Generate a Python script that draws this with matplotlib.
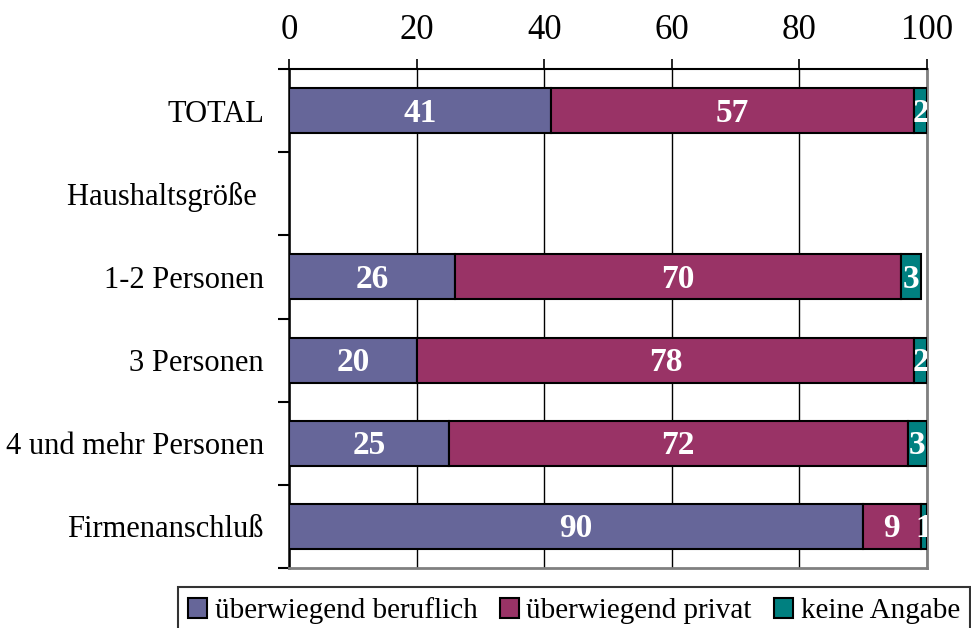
import matplotlib.pyplot as plt
import numpy as np

# Data
categories = ["TOTAL", "Haushaltsgröße ", "1-2 Personen", "3 Personen",
              "4 und mehr Personen", "Firmenanschluß"]
beruflich = [41, np.nan, 26, 20, 25, 90]
privat = [57, np.nan, 70, 78, 72, 9]
keine = [2, np.nan, 3, 2, 3, 1]
series_names = ["überwiegend beruflich", "überwiegend privat", "keine Angabe"]
colors = ["#666699", "#993366", "#008080"]
xticks = [0, 20, 40, 60, 80, 100]

plt.rcParams['font.family'] = ['Liberation Serif', 'DejaVu Serif']

fig = plt.figure(figsize=(9.71, 6.28), dpi=100)
ax = fig.add_axes([289 / 971, 1 - 568 / 628, 638 / 971, 499 / 628])

y = np.arange(len(categories))
left = np.zeros(len(categories))
for vals, name, col in zip([beruflich, privat, keine], series_names, colors):
    arr = np.array(vals, dtype=float)
    mask = ~np.isnan(arr)
    v = np.nan_to_num(arr)
    ax.barh(y[mask], v[mask], left=left[mask], height=0.54, color=col,
            edgecolor="black", linewidth=1.5, label=name, zorder=3)
    for yi, vi, li in zip(y[mask], v[mask], left[mask]):
        ax.text(li + vi / 2, yi + 0.03, f"{int(vi)}", ha="center", va="center",
                color="white", fontsize=24, fontweight="bold", zorder=4,
                clip_on=True)
    left = left + v

ax.set_xlim(0, 100)
ax.set_ylim(len(categories) - 0.5, -0.5)

# x axis on top
ax.xaxis.tick_top()
ax.set_xticks(xticks)
ax.tick_params(axis="x", length=7, width=1.2, pad=9, labelsize=25,
               direction="out", colors="black")
ax.grid(axis="x", color="black", linewidth=1.0, zorder=0)

# y axis: labels at centers, separator ticks at boundaries
ax.set_yticks(y)
ax.set_yticklabels(categories, fontsize=22)
ax.set_yticks(np.arange(-0.5, len(categories)), minor=True)
ax.tick_params(axis="y", which="major", length=0, pad=18)
ax.tick_params(axis="y", which="minor", length=8, width=1.5)

ax.spines["left"].set_linewidth(1.8)
ax.spines["top"].set_linewidth(1.5)
ax.spines["right"].set_color("#808080")
ax.spines["right"].set_linewidth(2)
ax.spines["bottom"].set_color("#808080")
ax.spines["bottom"].set_linewidth(2)

leg = fig.legend(loc="upper left", bbox_to_anchor=(178 / 971, 1 - 587 / 628),
                 ncol=3, fontsize=21, frameon=True, fancybox=False,
                 edgecolor="black", handlelength=0.65, handleheight=0.65,
                 handletextpad=0.27, columnspacing=0.75, borderpad=0.35,
                 borderaxespad=0)
leg.get_frame().set_linewidth(1.5)

fig.savefig("out.png", dpi=100)
